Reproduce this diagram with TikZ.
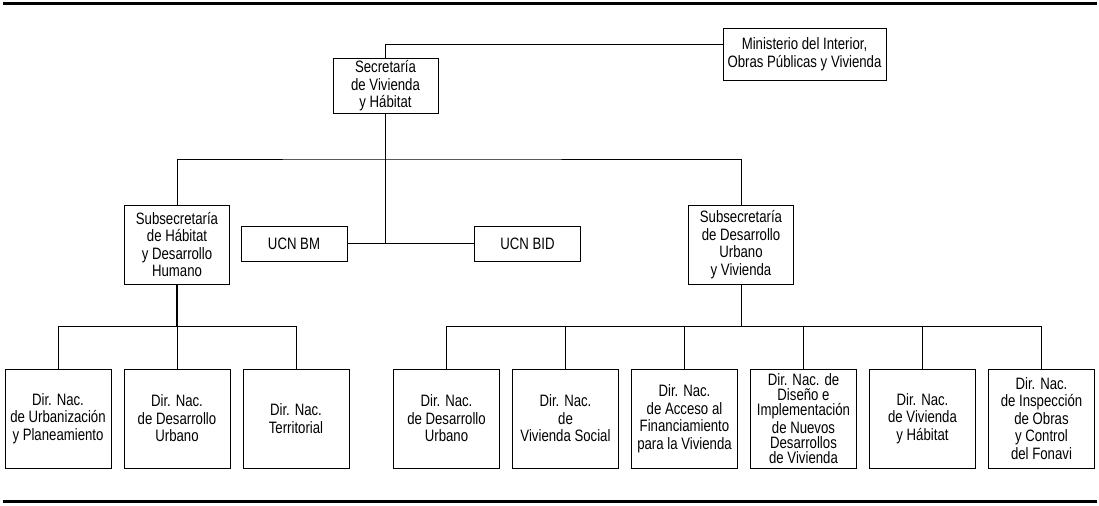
\documentclass[tikz,border=0pt]{standalone}
\usepackage{fontspec}
\newfontfamily\orgfont[FakeStretch=0.8]{Liberation Sans}
\tikzset{
  unit/.style={draw, line width=0.5pt, align=center, inner sep=0pt,
    font=\orgfont\fontsize{8.25}{8.75}\selectfont},
  subbox/.style={unit, minimum width=52.5pt, minimum height=39.5pt},
  ucnbox/.style={unit, minimum width=53pt, minimum height=17.5pt},
  dirbox/.style={unit, minimum width=53pt, minimum height=49.5pt},
  link/.style={line width=0.5pt}
}
\begin{document}
\begin{tikzpicture}[x=0.5pt,y=-0.5pt]
\useasboundingbox (0,0) rectangle (1099,505);
\draw[line width=1.2pt] (3,3.5) -- (1097,3.5);
\draw[line width=1.5pt] (3,501) -- (1097,501);

\node[unit, minimum width=81.5pt, minimum height=26pt] (mini) at (804.5,54) {Ministerio del Interior,\\Obras Públicas y Vivienda};
\node[unit, minimum width=52.5pt, minimum height=27.5pt] (secr) at (385.5,86) {Secretaría\\de Vivienda\\y Hábitat};
\node[subbox] (subhab) at (177,244.5) {Subsecretaría\\de Hábitat\\y Desarrollo\\Humano};
\node[ucnbox] (ucnbm) at (294,243.5) {UCN BM};
\node[ucnbox] (ucnbid) at (527.5,243.5) {UCN BID};
\node[subbox] (subdes) at (741,244.5) {Subsecretaría\\de Desarrollo\\Urbano\\y Vivienda};

\node[dirbox] (urb) at (58,418.5) {Dir. Nac.\\de Urbanización\\y Planeamiento};
\node[dirbox] (desu) at (177,418.5) {Dir. Nac.\\de Desarrollo\\Urbano};
\node[dirbox] (terr) at (296,418.5) {Dir. Nac.\\Territorial};
\node[dirbox] (desb) at (446.5,418.5) {Dir. Nac.\\de Desarrollo\\Urbano};
\node[dirbox] (soc) at (565.5,418.5) {Dir. Nac.\\de\\Vivienda Social};
\node[dirbox] (fin) at (684.5,418.5) {Dir. Nac.\\de Acceso al\\Financiamiento\\para la Vivienda};
\node[dirbox, font=\orgfont\fontsize{8.25}{7.5}\selectfont] (dis) at (803.5,418.5) {Dir. Nac. de\\Diseño e\\Implementación\\de Nuevos\\Desarrollos\\de Vivienda};
\node[dirbox] (viv) at (922.5,418.5) {Dir. Nac.\\de Vivienda\\y Hábitat};
\node[dirbox] (insp) at (1041.5,418.5) {Dir. Nac.\\de Inspección\\de Obras\\y Control\\del Fonavi};

\coordinate (mtop) at (385.5,44);
\coordinate (bus) at (385.5,159);
\coordinate (lbus) at (177,326);
\coordinate (rbus) at (741,326);

\draw[link] (secr.north) -- (mtop) -- (mtop -| mini.west);
\draw[link] (secr.south) -- (secr.south |- ucnbm.east);
\draw[link] (ucnbm.east) -- (ucnbid.west);
\draw[link] (subhab.north) |- (bus) -| (subdes.north);
\draw[line width=0.8pt] (subhab.south) -- (lbus);
\foreach \n in {urb,desu,terr}
  \draw[link] (\n.north) |- (lbus);
\draw[link] (subdes.south) -- (rbus);
\foreach \n in {desb,soc,fin,dis,viv,insp}
  \draw[link] (\n.north) |- (rbus);
\end{tikzpicture}
\end{document}
